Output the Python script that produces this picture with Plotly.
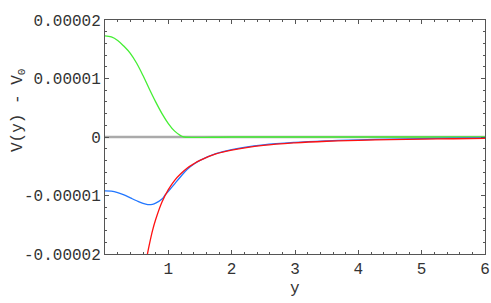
import plotly.graph_objects as go

# values in units of 1e-5
green_x = [0, 0.1, 0.2, 0.3, 0.4, 0.5, 0.6, 0.7, 0.8, 0.9, 1.0, 1.1, 1.2, 1.25, 2, 3, 4, 5, 6]
green_y = [1.73, 1.71, 1.65, 1.55, 1.43, 1.26, 1.05, 0.82, 0.60, 0.40, 0.23, 0.10, 0.02, 0.0, 0, 0, 0, 0, 0]

blue_x = [0, 0.1, 0.2, 0.3, 0.4, 0.5, 0.6, 0.675, 0.75, 0.8, 0.9, 0.95, 1.0, 1.1, 1.2, 1.3, 1.4, 1.5,
          1.75, 2.0, 2.5, 3.0, 3.5, 4.0, 4.5, 5.0, 5.5, 6.0]
blue_y = [-0.92, -0.925, -0.95, -0.99, -1.04, -1.09, -1.135, -1.155, -1.15, -1.13, -1.06, -0.99, -0.93,
          -0.80, -0.67, -0.55, -0.465, -0.40, -0.285, -0.215, -0.135, -0.092, -0.066, -0.048, -0.036,
          -0.027, -0.021, -0.016]

red_x = [0.67, 0.7, 0.75, 0.8, 0.9, 1.0, 1.1, 1.2, 1.3, 1.4, 1.5, 1.75, 2.0, 2.5, 3.0, 3.5, 4.0, 4.5,
         5.0, 5.5, 6.0]
red_y = [-2.00, -1.84, -1.60, -1.41, -1.11, -0.90, -0.74, -0.625, -0.53, -0.46, -0.40, -0.29, -0.225,
         -0.144, -0.10, -0.073, -0.056, -0.044, -0.036, -0.030, -0.025]

zero_x = [0, 6]
zero_y = [0, 0]

x_ticks = [1, 2, 3, 4, 5, 6]
y_ticks = [-2e-5, -1e-5, 0, 1e-5, 2e-5]
y_ticktext = ["-0.00002", "-0.00001", "0", "0.00001", "0.00002"]
x_title = "y"
y_title = "V(y) - V<sub>0</sub>"

S = 1e-5
fig = go.Figure()
fig.add_trace(go.Scatter(x=zero_x, y=zero_y, mode="lines", line=dict(color="#aaaaaa", width=2.5),
                         hoverinfo="skip"))
fig.add_trace(go.Scatter(x=green_x, y=[v * S for v in green_y], mode="lines", line_shape="spline",
                         line=dict(color="#44ee33", width=1.3)))
fig.add_trace(go.Scatter(x=blue_x, y=[v * S for v in blue_y], mode="lines", line_shape="spline",
                         line=dict(color="#2277ff", width=1.3)))
fig.add_trace(go.Scatter(x=red_x, y=[v * S for v in red_y], mode="lines", line_shape="spline",
                         line=dict(color="#ff1111", width=1.3)))

font = dict(family="Liberation Mono", size=16, color="#333333")
fig.update_layout(
    width=491, height=303,
    margin=dict(l=105, r=6, t=20, b=49, autoexpand=False),
    paper_bgcolor="white", plot_bgcolor="white",
    showlegend=False,
    font=font,
    xaxis=dict(range=[0, 6], tickvals=x_ticks, ticks="inside", ticklen=4, tickcolor="#555",
               showline=True, linecolor="#555", linewidth=1, mirror="allticks", showgrid=False,
               zeroline=False, automargin=False,
               minor=dict(dtick=0.2, ticks="inside", ticklen=2, tickcolor="#555"),
               tickfont=font),
    yaxis=dict(range=[-2e-5, 2e-5], tickvals=y_ticks, ticktext=y_ticktext, ticks="inside", ticklen=4,
               tickcolor="#555", showline=True, linecolor="#555", linewidth=1, mirror="allticks",
               showgrid=False, zeroline=False, automargin=False,
               minor=dict(dtick=0.2e-5, tick0=0, ticks="inside", ticklen=2, tickcolor="#555"),
               tickfont=font),
    annotations=[
        dict(text=x_title, xref="paper", yref="paper", x=0.5, y=0, yshift=-35, xanchor="center",
             yanchor="middle", showarrow=False, font=font),
        dict(text=y_title, xref="paper", yref="paper", x=0, y=0.5, xshift=-87, yshift=27,
             xanchor="center", yanchor="middle", textangle=-90, showarrow=False, font=font),
    ],
)
fig.write_html("out.html", config={"displayModeBar": False},
               post_script="document.body.style.margin='0';document.body.style.overflow='hidden';")
